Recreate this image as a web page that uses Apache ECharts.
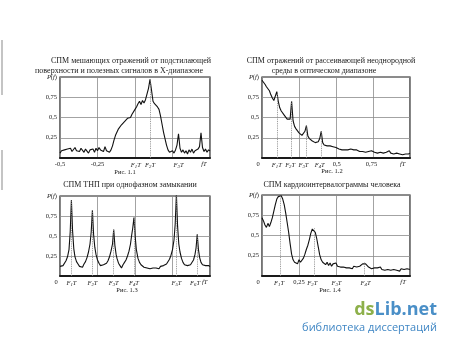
<!DOCTYPE html>
<html><head><meta charset="utf-8">
<script src="https://cdn.jsdelivr.net/npm/echarts@6/dist/echarts.min.js"></script>
<style>html,body{margin:0;padding:0;background:#fff}#c{width:450px;height:349px}</style>
</head><body><div id="c"></div>
<script>
// ---------- Data ----------
const fig1X = [-0.50,-0.49,-0.48,-0.47,-0.46,-0.45,-0.44,-0.43,-0.42,-0.41,-0.40,-0.39,-0.38,-0.37,-0.36,-0.35,-0.34,-0.33,-0.32,-0.31,-0.30,-0.29,-0.28,-0.27,-0.26,-0.25,-0.24,-0.23,-0.22,-0.21,-0.20,-0.19,-0.18,-0.17,-0.16,-0.15,-0.14,-0.13,-0.12,-0.11,-0.10,-0.09,-0.08,-0.07,-0.06,-0.05,-0.04,-0.03,-0.02,-0.01,0.00,0.01,0.02,0.03,0.04,0.05,0.06,0.07,0.08,0.09,0.10,0.11,0.12,0.13,0.14,0.15,0.16,0.17,0.18,0.19,0.20,0.21,0.22,0.23,0.24,0.25,0.26,0.27,0.28,0.29,0.30,0.31,0.32,0.33,0.34,0.35,0.36,0.37,0.38,0.39,0.40,0.41,0.42,0.43,0.44,0.45,0.46,0.47,0.48,0.49,0.50];
const fig1Y = [0.06,0.09,0.07,0.10,0.08,0.11,0.09,0.12,0.08,0.10,0.13,0.09,0.11,0.08,0.12,0.10,0.07,0.11,0.09,0.06,0.10,0.08,0.11,0.07,0.12,0.09,0.13,0.10,0.12,0.08,0.14,0.09,0.11,0.07,0.10,0.15,0.22,0.28,0.32,0.36,0.38,0.41,0.43,0.45,0.47,0.49,0.51,0.50,0.54,0.56,0.60,0.63,0.67,0.70,0.66,0.71,0.68,0.72,0.74,0.86,0.97,0.84,0.70,0.67,0.66,0.63,0.60,0.52,0.42,0.32,0.24,0.16,0.10,0.07,0.05,0.09,0.06,0.10,0.16,0.30,0.12,0.07,0.10,0.06,0.09,0.05,0.10,0.07,0.11,0.06,0.09,0.07,0.11,0.14,0.31,0.13,0.08,0.11,0.07,0.10,0.09];
const fig1LabelX = [-0.5,-0.25,0.005,0.1,0.29,0.46];
const fig1Labels = ['-0,5','-0,25','F1T','F2T','F3T','fT'];
const fig1DotX = [0.10];

const fig2X = [0.00,0.01,0.02,0.03,0.04,0.05,0.06,0.07,0.08,0.09,0.10,0.11,0.12,0.13,0.14,0.15,0.16,0.17,0.18,0.19,0.20,0.21,0.22,0.23,0.24,0.25,0.26,0.27,0.28,0.29,0.30,0.31,0.32,0.33,0.34,0.35,0.36,0.37,0.38,0.39,0.40,0.41,0.42,0.43,0.44,0.45,0.46,0.47,0.48,0.49,0.50,0.51,0.52,0.53,0.54,0.55,0.56,0.57,0.58,0.59,0.60,0.61,0.62,0.63,0.64,0.65,0.66,0.67,0.68,0.69,0.70,0.71,0.72,0.73,0.74,0.75,0.76,0.77,0.78,0.79,0.80,0.81,0.82,0.83,0.84,0.85,0.86,0.87,0.88,0.89,0.90,0.91,0.92,0.93,0.94,0.95,0.96,0.97,0.98,0.99,1.00];
const fig2Y = [0.96,0.94,0.91,0.88,0.86,0.83,0.78,0.74,0.71,0.73,0.82,0.70,0.62,0.58,0.56,0.53,0.51,0.48,0.46,0.48,0.70,0.46,0.39,0.36,0.34,0.31,0.30,0.28,0.29,0.33,0.40,0.27,0.24,0.23,0.21,0.22,0.19,0.18,0.20,0.24,0.33,0.19,0.16,0.17,0.15,0.14,0.15,0.13,0.14,0.12,0.13,0.12,0.11,0.12,0.10,0.11,0.10,0.12,0.10,0.09,0.11,0.09,0.10,0.08,0.10,0.09,0.08,0.10,0.08,0.09,0.07,0.09,0.08,0.07,0.09,0.08,0.07,0.09,0.06,0.08,0.07,0.09,0.06,0.08,0.07,0.05,0.09,0.06,0.08,0.05,0.07,0.06,0.08,0.05,0.07,0.04,0.06,0.05,0.07,0.05,0.06];
const fig2LabelX = [0,0.1,0.19,0.28,0.39,0.505,0.74,0.95];
const fig2Labels = ['0','F1T','F2T','F3T','F4T','0,5','0,75','fT'];
const fig2DotX = [0.10,0.20,0.30,0.40];

const fig3X = [0.00,0.01,0.02,0.03,0.04,0.05,0.06,0.068,0.076,0.084,0.092,0.10,0.11,0.12,0.13,0.14,0.15,0.16,0.17,0.18,0.19,0.20,0.208,0.216,0.224,0.232,0.24,0.25,0.26,0.27,0.28,0.29,0.30,0.31,0.32,0.33,0.34,0.35,0.358,0.366,0.374,0.38,0.39,0.40,0.41,0.42,0.43,0.44,0.45,0.46,0.47,0.477,0.485,0.493,0.501,0.509,0.52,0.53,0.54,0.55,0.56,0.57,0.58,0.59,0.60,0.61,0.62,0.63,0.64,0.65,0.66,0.67,0.68,0.69,0.70,0.71,0.72,0.73,0.74,0.75,0.76,0.768,0.776,0.784,0.792,0.80,0.81,0.82,0.83,0.84,0.85,0.86,0.87,0.88,0.89,0.90,0.907,0.915,0.923,0.931,0.94,0.95,0.96,0.97,0.98,0.99,1.00];
const fig3Y = [0.12,0.10,0.13,0.15,0.19,0.24,0.33,0.55,0.95,0.56,0.34,0.24,0.18,0.15,0.12,0.14,0.11,0.15,0.18,0.23,0.30,0.40,0.55,0.82,0.52,0.36,0.27,0.20,0.16,0.13,0.11,0.14,0.12,0.16,0.19,0.24,0.31,0.40,0.58,0.38,0.27,0.22,0.16,0.13,0.10,0.14,0.17,0.20,0.25,0.31,0.40,0.50,0.60,0.73,0.50,0.33,0.22,0.17,0.14,0.12,0.11,0.12,0.10,0.11,0.09,0.11,0.10,0.12,0.10,0.11,0.09,0.12,0.11,0.13,0.12,0.15,0.17,0.21,0.26,0.33,0.45,0.65,1.02,0.62,0.40,0.30,0.22,0.17,0.14,0.12,0.13,0.11,0.14,0.16,0.20,0.27,0.35,0.52,0.33,0.23,0.17,0.14,0.12,0.13,0.11,0.13,0.12];
const fig3LabelX = [0,0.076,0.216,0.358,0.493,0.776,0.9,0.965];
const fig3Labels = ['0','F1T','F2T','F3T','F4T','F5T','F6T','fT'];
const fig3DotX = [0.076,0.216,0.358,0.493,0.776,0.915];

const fig4X = fig2X;
const fig4Y = [0.72,0.68,0.63,0.60,0.65,0.61,0.66,0.72,0.80,0.88,0.95,0.98,1.00,0.99,0.95,0.88,0.78,0.66,0.54,0.40,0.27,0.20,0.17,0.19,0.15,0.20,0.17,0.16,0.22,0.27,0.33,0.38,0.45,0.53,0.58,0.60,0.54,0.46,0.36,0.26,0.20,0.17,0.16,0.14,0.17,0.13,0.16,0.12,0.15,0.14,0.16,0.12,0.14,0.11,0.13,0.11,0.12,0.10,0.12,0.10,0.11,0.09,0.12,0.10,0.11,0.09,0.12,0.14,0.15,0.17,0.15,0.13,0.11,0.12,0.09,0.11,0.10,0.08,0.10,0.09,0.11,0.08,0.10,0.07,0.09,0.08,0.10,0.07,0.09,0.08,0.10,0.07,0.09,0.06,0.09,0.07,0.08,0.06,0.09,0.07,0.08];
const fig4LabelX = [0,0.115,0.25,0.34,0.503,0.70,0.953];
const fig4Labels = ['0','F1T','0,25','F2T','F3T','F4T','fT'];
const fig4DotX = [0.12,0.35,0.69];

const yTickLabels = {0:'', 0.25:'0,25', 0.5:'0,5', 0.75:'0,75', 1:'P(f)'};

const titles = [
  ['СПМ мешающих отражений от подстилающей', 131, 61],
  ['поверхности и полезных сигналов в X-диапазоне', 119, 71],
  ['СПМ отражений от рассеивающей неоднородной', 331, 61],
  ['среды в оптическом диапазоне', 324, 71],
  ['СПМ ТНП при однофазном замыкании', 130, 185],
  ['СПМ кардиоинтервалограммы человека', 332, 185]
];
const captions = [['Рис. 1.1',125,172],['Рис. 1.2',332,171],['Рис. 1.3',127,290],['Рис. 1.4',330,290]];

// ---------- Chart ----------
const FONT = '"Liberation Serif","Times New Roman",serif';
const INK = '#1a1a1a';
const rich = {
  i: {fontFamily: FONT, fontStyle: 'italic', fontSize: 6.5, color: INK},
  s: {fontFamily: FONT, fontStyle: 'italic', fontSize: 4.8, color: INK, verticalAlign: 'bottom', padding: [3,0,0,0]},
  z: {fontFamily: FONT, fontSize: 6.5, color: INK, padding: [0,8,0,0]}
};
function fmt(s){
  const m = /^F(\d)T$/.exec(s);
  if (m) return '{i|F}{s|' + m[1] + '}{i|T}';
  if (s === 'fT') return '{i|fT}';
  if (s === '0') return '{z|0}';
  if (s === 'P(f)') return '{i|P}(' + '{i|f})';
  return s;
}
const grids = [
  {left: 60, top: 77, width: 150, height: 81},
  {left: 262, top: 77, width: 148, height: 81},
  {left: 60, top: 196, width: 150, height: 80},
  {left: 262, top: 195, width: 148, height: 81}
];
const figs = [
  {x: fig1X, y: fig1Y, lx: fig1LabelX, lt: fig1Labels, dots: fig1DotX, min: -0.5, max: 0.5},
  {x: fig2X, y: fig2Y, lx: fig2LabelX, lt: fig2Labels, dots: fig2DotX, min: 0, max: 1},
  {x: fig3X, y: fig3Y, lx: fig3LabelX, lt: fig3Labels, dots: fig3DotX, min: 0, max: 1},
  {x: fig4X, y: fig4Y, lx: fig4LabelX, lt: fig4Labels, dots: fig4DotX, min: 0, max: 1}
];
function nearestY(xs, ys, x){
  let k = 0;
  for (let j = 1; j < xs.length; j++) if (Math.abs(xs[j]-x) < Math.abs(xs[k]-x)) k = j;
  return Math.min(ys[k], 1);
}
const splitStyle = {show: true, lineStyle: {color: '#8c8c8c', width: 0.8}};
const option = {
  backgroundColor: '#fff',
  animation: false,
  grid: grids.map(g => Object.assign({show: true, borderColor: INK, borderWidth: 1.2, backgroundColor: 'transparent', containLabel: false}, g)),
  xAxis: figs.map((f, i) => ({
    type: 'value', gridIndex: i, min: f.min, max: f.max, interval: 0.25,
    axisLine: {show: true, onZero: false, lineStyle: {color: INK, width: 2}},
    axisTick: {show: false},
    splitLine: splitStyle,
    axisLabel: {
      customValues: f.lx,
      formatter: v => { const k = f.lx.findIndex(u => Math.abs(u - v) < 1e-9); return k < 0 ? '' : fmt(f.lt[k]); },
      fontFamily: FONT, fontSize: 6.5, color: INK, margin: 3, rich: rich, hideOverlap: false
    }
  })),
  yAxis: figs.map((f, i) => ({
    type: 'value', gridIndex: i, min: 0, max: 1, interval: 0.25,
    axisLine: {show: false}, axisTick: {show: false},
    splitLine: splitStyle,
    axisLabel: {
      formatter: v => fmt(yTickLabels[v] || ''),
      fontFamily: FONT, fontSize: 6.5, color: INK, margin: 3, rich: rich
    }
  })),
  series: figs.map((f, i) => ({
    type: 'line', xAxisIndex: i, yAxisIndex: i,
    data: f.x.map((x, j) => [x, f.y[j]]),
    showSymbol: false, clip: true,
    lineStyle: {color: '#111', width: 1.1},
    z: 3,
    markLine: {
      silent: true, symbol: ['none','none'], label: {show: false},
      lineStyle: {color: '#888', type: 'dotted', width: 0.9},
      data: f.dots.map(d => [{coord: [d, 0]}, {coord: [d, nearestY(f.x, f.y, d)]}])
    }
  })),
  graphic: [
    ...titles.map(t => ({type: 'text', x: t[1], y: t[2], style: {text: t[0], align: 'center', verticalAlign: 'middle', font: '8px ' + FONT, fill: INK}})),
    ...captions.map(t => ({type: 'text', x: t[1], y: t[2], style: {text: t[0], align: 'center', verticalAlign: 'middle', font: '6.5px ' + FONT, fill: INK}})),
    {type: 'line', shape: {x1: 2, y1: 40, x2: 2, y2: 95}, style: {stroke: '#b0b0b0', lineWidth: 1.5}},
    {type: 'line', shape: {x1: 2, y1: 150, x2: 2, y2: 190}, style: {stroke: '#b0b0b0', lineWidth: 1.5}},
    {type: 'text', x: 437, y: 310, style: {text: '{g|ds}{b|Lib.net}', align: 'right', verticalAlign: 'middle',
      rich: {g: {font: 'bold 18px "Open Sans", sans-serif', fill: '#8db04a'}, b: {font: 'bold 18px "Open Sans", sans-serif', fill: '#4a8fc7'}}}},
    {type: 'text', x: 437, y: 328, style: {text: 'библиотека диссертаций', align: 'right', verticalAlign: 'middle', font: '11px "Open Sans", sans-serif', fill: '#3f86c4'}}
  ]
};
const chart = echarts.init(document.getElementById('c'), null, {renderer: 'canvas'});
chart.setOption(option);
</script>
</body></html>
